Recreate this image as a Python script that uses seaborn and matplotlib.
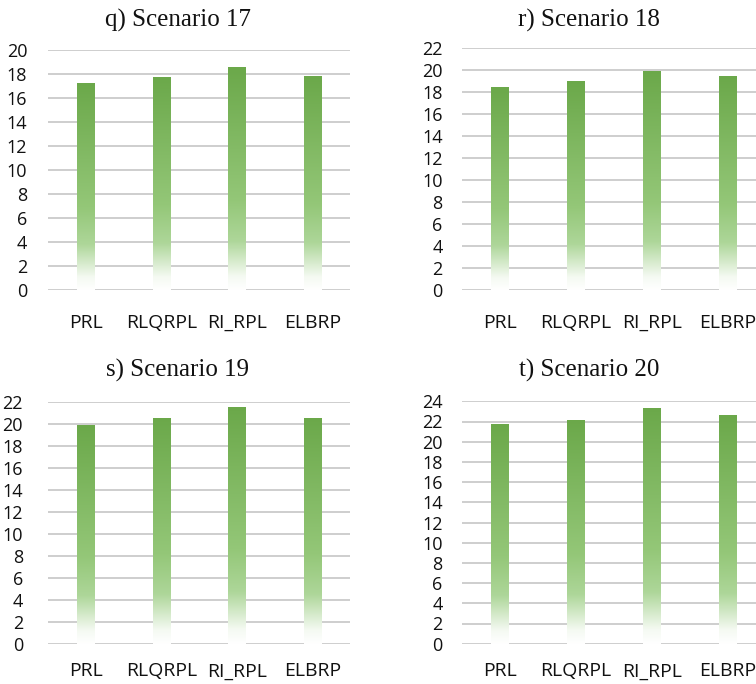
import numpy as np
import matplotlib
matplotlib.use("Agg")
import matplotlib.pyplot as plt
import seaborn as sns
import pandas as pd

# Routing protocols compared in every scenario
protocols = ["PRL", "RLQRPL", "RI_RPL", "ELBRP"]

# Measured values per scenario
scenario_17 = [17.2, 17.7, 18.5, 17.8]
scenario_18 = [18.4, 19.0, 19.9, 19.45]
scenario_19 = [19.9, 20.5, 21.5, 20.5]
scenario_20 = [21.7, 22.1, 23.3, 22.6]

titles = ["q) Scenario 17", "r) Scenario 18", "s) Scenario 19", "t) Scenario 20"]
y_max = [20, 22, 22, 24]

sns.set_theme(style="white")
plt.rcParams["font.family"] = ["Open Sans", "DejaVu Sans"]

W, H = 756, 684
fig = plt.figure(figsize=(W / 100, H / 100), dpi=100)

# axes boxes in pixels: left, top (y of max tick), right, bottom (y of 0)
boxes = [
    (48, 50, 350, 290),
    (462, 48.3, 766, 290),
    (48, 402, 350, 643.7),
    (462, 401.3, 766, 643.7),
]
# title centre x and baseline y, in pixels
title_pos = [(178, 27), (589, 27), (178, 377), (589, 377)]
label_pad = [15, 14, 18, 14]
x_pad = [27, 27, 23.5, 23.5]

# vertical colour ramp for the bars: white at the base to green at the top
stops = [(0.0, (1.0, 1.0, 1.0)),
         (0.06, (0.96, 0.98, 0.95)),
         (0.22, (0.68, 0.84, 0.60)),
         (0.40, (0.58, 0.78, 0.47)),
         (1.0, (0.42, 0.66, 0.29))]
n = 256
t = np.linspace(0, 1, n)
ramp = np.zeros((n, 1, 3))
for c in range(3):
    ramp[:, 0, c] = np.interp(t, [s[0] for s in stops], [s[1][c] for s in stops])

all_values = [scenario_17, scenario_18, scenario_19, scenario_20]
for i, vals in enumerate(all_values):
    l, tp, r, b = boxes[i]
    ax = fig.add_axes([l / W, 1 - b / H, (r - l) / W, (b - tp) / H])
    df = pd.DataFrame({"protocol": protocols, "value": vals})
    sns.barplot(data=df, x="protocol", y="value", color="#70ad47", width=0.23,
                ax=ax, zorder=3)
    ax.set_yticks(np.arange(0, y_max[i] + 1, 2))
    for yv in np.arange(0, y_max[i] + 1, 2):
        ax.axhline(yv, color="#cacaca", lw=1.3, zorder=1)
    # replace each flat bar fill with the vertical ramp
    for p in ax.patches:
        x0, y0 = p.get_x(), p.get_y()
        w, h = p.get_width(), p.get_height()
        p.set_visible(False)
        ax.imshow(ramp, origin="lower", aspect="auto",
                  extent=[x0, x0 + w, y0, y0 + h], zorder=3,
                  interpolation="bilinear")
    ax.set_ylim(0, y_max[i])
    ax.set_xlim(-0.5, 3.5)
    for s in ax.spines.values():
        s.set_visible(False)
    ax.set_xlabel("")
    ax.set_ylabel("")
    ax.tick_params(axis="y", length=0, pad=label_pad[i], labelsize=13,
                   labelcolor="#111111")
    ax.tick_params(axis="x", length=0, pad=x_pad[i], labelsize=14,
                   labelcolor="#111111")
    for lab in ax.get_xticklabels():
        lab.set_verticalalignment("baseline")
    tx, ty = title_pos[i]
    fig.text(tx / W, 1 - ty / H, titles[i], ha="center", va="baseline",
             family=["Liberation Serif"], fontsize=18, color="#111111")

fig.savefig("out.png", dpi=100)
